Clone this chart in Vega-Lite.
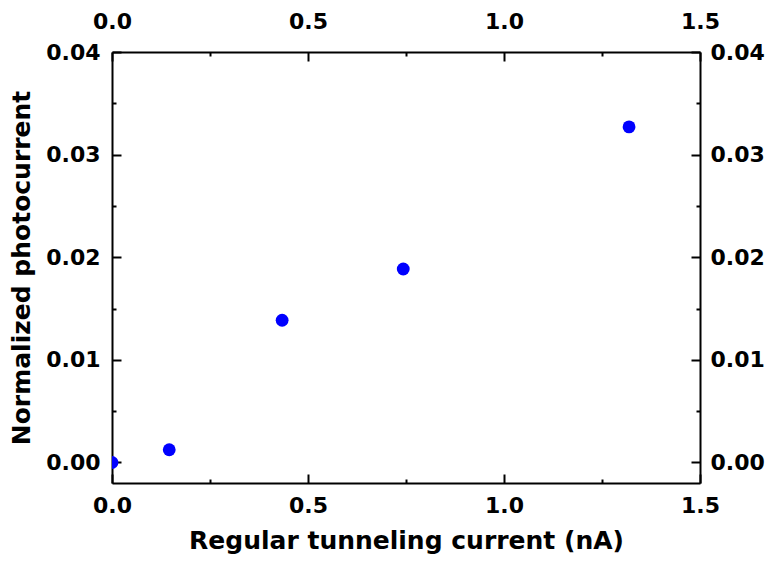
{
  "$schema": "https://vega.github.io/schema/vega-lite/v6.json",
  "width": 588,
  "height": 431,
  "autosize": "none",
  "padding": {"left": 112, "top": 52, "right": 65, "bottom": 83},
  "background": "white",
  "config": {
    "view": {"stroke": null},
    "axis": {
      "labelFont": "DejaVu Sans",
      "labelFontWeight": "bold",
      "labelFontSize": 22,
      "labelColor": "black",
      "titleFont": "DejaVu Sans",
      "titleFontWeight": "bold",
      "titleFontSize": 25,
      "titleColor": "black",
      "grid": false,
      "domainColor": "black",
      "domainWidth": 2,
      "tickColor": "black",
      "tickWidth": 2,
      "labelFlush": false,
      "labelOverlap": false,
      "zindex": 1
    }
  },
  "data": {
    "values": [
      {"current": 0, "photo": 0},
      {"current": 0.146, "photo": 0.00124},
      {"current": 0.434, "photo": 0.01386},
      {"current": 0.743, "photo": 0.01885},
      {"current": 1.319, "photo": 0.0327}
    ]
  },
  "layer": [
    {
      "mark": {"type": "point", "filled": true, "shape": "circle", "size": 165, "color": "#0000FF", "opacity": 1, "clip": true},
      "encoding": {
        "x": {"field": "current", "type": "quantitative", "scale": {"domain": [0, 1.5], "nice": false, "zero": false},
          "axis": {"orient": "bottom", "values": [0, 0.5, 1, 1.5], "format": ".1f", "tickSize": -9, "labelPadding": 21, "title": "Regular tunneling current (nA)", "titlePadding": 12}},
        "y": {"field": "photo", "type": "quantitative", "scale": {"domain": [-0.002, 0.04], "nice": false, "zero": false},
          "axis": {"orient": "left", "values": [0, 0.01, 0.02, 0.03, 0.04], "format": ".2f", "tickSize": -9, "labelPadding": 21, "title": "Normalized photocurrent", "titlePadding": 11}}
      }
    },
    {
      "mark": {"type": "point", "opacity": 0},
      "encoding": {
        "x": {"field": "current", "type": "quantitative", "scale": {"domain": [0, 1.5], "nice": false, "zero": false},
          "axis": {"orient": "bottom", "values": [0.25, 0.75, 1.25], "tickSize": -4, "labels": false, "domain": false, "title": null}},
        "y": {"field": "photo", "type": "quantitative", "scale": {"domain": [-0.002, 0.04], "nice": false, "zero": false},
          "axis": {"orient": "left", "values": [0.005, 0.015, 0.025, 0.035], "tickSize": -4, "labels": false, "domain": false, "title": null}}
      }
    },
    {
      "mark": {"type": "point", "opacity": 0},
      "encoding": {
        "x": {"field": "current", "type": "quantitative", "scale": {"domain": [0, 1.5], "nice": false, "zero": false},
          "axis": {"orient": "top", "values": [0, 0.5, 1, 1.5], "format": ".1f", "tickSize": -9, "labelPadding": 28, "title": null}},
        "y": {"field": "photo", "type": "quantitative", "scale": {"domain": [-0.002, 0.04], "nice": false, "zero": false},
          "axis": {"orient": "right", "values": [0, 0.01, 0.02, 0.03, 0.04], "format": ".2f", "tickSize": -9, "labelPadding": 19, "title": null}}
      }
    },
    {
      "mark": {"type": "point", "opacity": 0},
      "encoding": {
        "x": {"field": "current", "type": "quantitative", "scale": {"domain": [0, 1.5], "nice": false, "zero": false},
          "axis": {"orient": "top", "values": [0.25, 0.75, 1.25], "tickSize": -4, "labels": false, "domain": false, "title": null}},
        "y": {"field": "photo", "type": "quantitative", "scale": {"domain": [-0.002, 0.04], "nice": false, "zero": false},
          "axis": {"orient": "right", "values": [0.005, 0.015, 0.025, 0.035], "tickSize": -4, "labels": false, "domain": false, "title": null}}
      }
    }
  ],
  "resolve": {"axis": {"x": "independent", "y": "independent"}}
}
